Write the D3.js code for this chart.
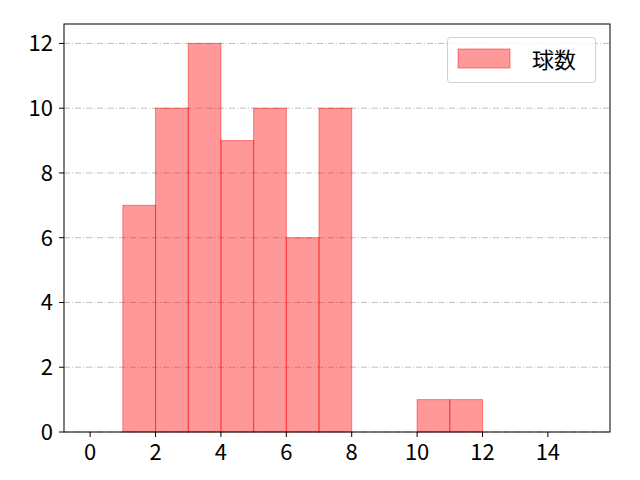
<!DOCTYPE html>
<html>
<head>
<meta charset="utf-8">
<script src="https://cdn.jsdelivr.net/npm/d3@7"></script>
<style>
  body { margin: 0; background: #fff; }
  svg { display: block; font-family: "Noto Sans CJK JP", "DejaVu Sans", sans-serif; }
</style>
</head>
<body>
<svg id="chart" width="640" height="480"></svg>
<script>
// histogram bins (left edge, right edge) and counts
var binStarts = [1, 2, 3, 4, 5, 6, 7, 10, 11];
var binEnds   = [2, 3, 4, 5, 6, 7, 8, 11, 12];
var counts    = [7, 10, 12, 9, 10, 6, 10, 1, 1];
var xTicks = [0, 2, 4, 6, 8, 10, 12, 14];
var yTicks = [0, 2, 4, 6, 8, 10, 12];
var seriesName = '球数';

var svg = d3.select('#chart');
var plotLeft = 64, plotRight = 610, plotTop = 24, plotBottom = 432;

var x = d3.scaleLinear().domain([-0.8, 15.9]).range([plotLeft, plotRight]);
var y = d3.scaleLinear().domain([0, 12.6]).range([plotBottom, plotTop]);

// grid
svg.append('g').selectAll('line').data(yTicks).join('line')
  .attr('x1', plotLeft).attr('x2', plotRight)
  .attr('y1', function(d) { return y(d); }).attr('y2', function(d) { return y(d); })
  .attr('stroke', '#b0b0b0').attr('stroke-width', 0.8)
  .attr('stroke-dasharray', '6,2,1,2');

// bars
svg.append('g').selectAll('rect').data(counts).join('rect')
  .attr('x', function(d, i) { return x(binStarts[i]); })
  .attr('width', function(d, i) { return x(binEnds[i]) - x(binStarts[i]); })
  .attr('y', function(d) { return y(d); })
  .attr('height', function(d) { return y(0) - y(d); })
  .attr('fill', 'rgba(255,0,0,0.4)')
  .attr('stroke', 'rgba(255,0,0,0.45)')
  .attr('stroke-width', 1);

// axes, drawn by hand so the tick text is plain and sized directly
var xAxis = svg.append('g');
xAxis.selectAll('line').data(xTicks).join('line')
  .attr('x1', function(d) { return x(d); }).attr('x2', function(d) { return x(d); })
  .attr('y1', plotBottom).attr('y2', plotBottom + 5).attr('stroke', '#000');
xAxis.selectAll('text').data(xTicks).join('text')
  .attr('x', function(d) { return x(d); }).attr('y', plotBottom + 28)
  .attr('text-anchor', 'middle').style('font-size', '22px').text(function(d) { return d; });

var yAxis = svg.append('g');
yAxis.selectAll('line').data(yTicks).join('line')
  .attr('x1', plotLeft - 5).attr('x2', plotLeft)
  .attr('y1', function(d) { return y(d); }).attr('y2', function(d) { return y(d); }).attr('stroke', '#000');
yAxis.selectAll('text').data(yTicks).join('text')
  .attr('x', plotLeft - 11).attr('y', function(d) { return y(d) + 8; })
  .attr('text-anchor', 'end').style('font-size', '22px').text(function(d) { return d; });

// frame
svg.append('rect')
  .attr('x', plotLeft).attr('y', plotTop)
  .attr('width', plotRight - plotLeft).attr('height', plotBottom - plotTop)
  .attr('fill', 'none').attr('stroke', '#000').attr('stroke-width', 1);

// legend
var lg = svg.append('g');
lg.append('rect').attr('x', 447.5).attr('y', 37.5).attr('width', 148).attr('height', 45)
  .attr('rx', 3).attr('fill', 'rgba(255,255,255,0.8)').attr('stroke', '#d0d0d0');
lg.append('rect').attr('x', 458).attr('y', 49).attr('width', 52).attr('height', 19)
  .attr('fill', 'rgba(255,0,0,0.4)').attr('stroke', 'rgba(255,0,0,0.45)');
lg.append('text').attr('x', 532).attr('y', 68).style('font-size', '22px').text(seriesName);
</script>
</body>
</html>
